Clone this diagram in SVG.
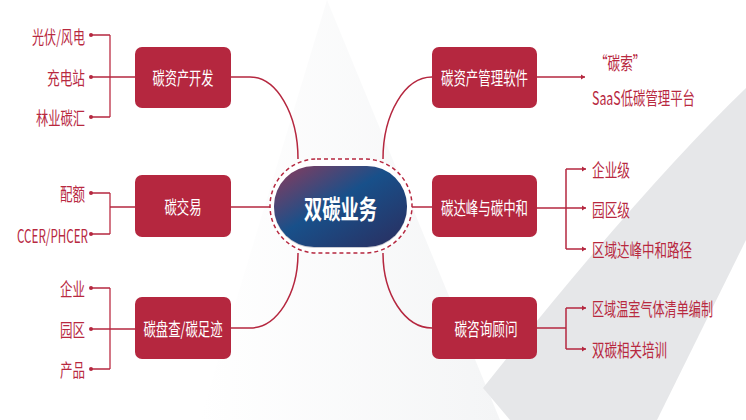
<svg xmlns="http://www.w3.org/2000/svg" width="746" height="420" viewBox="0 0 746 420">
<defs>
<linearGradient id="core" x1="0" y1="0" x2="1" y2="1">
<stop offset="0" stop-color="#8e3a5b"/>
<stop offset="0.45" stop-color="#18508a"/>
<stop offset="1" stop-color="#2b2d5e"/>
</linearGradient>
<linearGradient id="wedge" x1="0" y1="0" x2="1" y2="0">
<stop offset="0" stop-color="#ffffff"/>
<stop offset="1" stop-color="#f4f5f6"/>
</linearGradient>
<marker id="arr" markerUnits="userSpaceOnUse" markerWidth="8" markerHeight="8" refX="5" refY="4" orient="auto">
<path d="M1,1.5 L5,4 L1,6.5 Z" fill="#b5273f"/>
</marker>
<marker id="dot" markerUnits="userSpaceOnUse" markerWidth="6" markerHeight="6" refX="3" refY="3">
<circle cx="3" cy="3" r="2" fill="#b5273f"/>
</marker>
</defs>
<style>
.box{fill:#b5273f}
.bt{fill:#ffffff;font-family:"Noto Sans CJK SC","Noto Sans",sans-serif;font-size:18px;text-anchor:middle;dominant-baseline:central}
.lt{fill:#b8293f;font-family:"Noto Sans CJK SC","Noto Sans",sans-serif;font-size:18px;dominant-baseline:central}
.le{text-anchor:end}
.ln{fill:none;stroke:#b5273f;stroke-width:1.5}
.lb{fill:none;stroke:#c4485c;stroke-width:1.5}
</style>
<rect width="746" height="420" fill="#ffffff"/>
<polygon points="327,0 500,420 200,420" fill="url(#wedge)"/>
<path d="M746,88 Q640,190 483,388 L510,420 L657,420 L746,240 Z" fill="#e6e7e9"/>

<g id="connectors">
<path class="ln" d="M231,77 H250 A48 82 0 0 1 298,159"/>
<path class="ln" d="M231,207 H270"/>
<path class="ln" d="M231,328 H250 A48 75 0 0 0 298,253"/>
<path class="ln" d="M432,77 A49 82 0 0 0 383,159"/>
<path class="ln" d="M412,207 H432"/>
<path class="ln" d="M432,328 A49 75 0 0 1 383,253"/>

<path class="lb" d="M110,35 V117"/>
<path class="ln" d="M110,35 H91" marker-end="url(#dot)"/>
<path class="ln" d="M135,77 H91" marker-end="url(#dot)"/>
<path class="ln" d="M110,117 H91" marker-end="url(#dot)"/>

<path class="lb" d="M110,193 V234"/>
<path class="ln" d="M135,207 H110"/>
<path class="ln" d="M110,193 H91" marker-end="url(#dot)"/>
<path class="ln" d="M110,234 H91" marker-end="url(#dot)"/>

<path class="lb" d="M110,288 V369"/>
<path class="ln" d="M110,288 H91" marker-end="url(#dot)"/>
<path class="ln" d="M135,329 H91" marker-end="url(#dot)"/>
<path class="ln" d="M110,369 H91" marker-end="url(#dot)"/>

<path class="ln" d="M537,77 H585" marker-end="url(#arr)"/>

<path class="ln" d="M537,208 H566"/>
<path class="ln" d="M566,169 V249"/>
<path class="ln" d="M566,169 H586" marker-end="url(#arr)"/>
<path class="ln" d="M566,208 H586" marker-end="url(#arr)"/>
<path class="ln" d="M566,249 H586" marker-end="url(#arr)"/>

<path class="ln" d="M537,328 H566"/>
<path class="ln" d="M566,308 V349"/>
<path class="ln" d="M566,308 H586" marker-end="url(#arr)"/>
<path class="ln" d="M566,349 H586" marker-end="url(#arr)"/>
</g>

<g id="core-node">
<rect x="270" y="159" width="142" height="94" rx="47" fill="#ffffff" stroke="#b5273f" stroke-width="1.5" stroke-dasharray="4 3"/>
<rect x="274" y="167" width="133" height="81" rx="40" fill="#c9cbd3"/>
<rect x="274" y="166" width="133" height="81" rx="40" fill="url(#core)"/>
<text x="340.5" y="207" fill="#ffffff" font-family="'Noto Sans CJK SC','Noto Sans',sans-serif" font-size="26" font-weight="bold" text-anchor="middle" dominant-baseline="central" textLength="73" lengthAdjust="spacingAndGlyphs">双碳业务</text>
</g>

<g id="n-dev">
<rect class="box" x="135" y="47" width="96" height="61" rx="7"/>
<text class="bt" x="183" y="77" textLength="61" lengthAdjust="spacingAndGlyphs">碳资产开发</text>
</g>
<g id="n-trade">
<rect class="box" x="135" y="175" width="96" height="62" rx="7"/>
<text class="bt" x="183" y="206" textLength="37" lengthAdjust="spacingAndGlyphs">碳交易</text>
</g>
<g id="n-audit">
<rect class="box" x="135" y="297" width="96" height="62" rx="7"/>
<text class="bt" x="183" y="328" textLength="79" lengthAdjust="spacingAndGlyphs">碳盘查/碳足迹</text>
</g>
<g id="n-soft">
<rect class="box" x="432" y="47" width="105" height="61" rx="7"/>
<text class="bt" x="484.5" y="77" textLength="87" lengthAdjust="spacingAndGlyphs">碳资产管理软件</text>
</g>
<g id="n-peak">
<rect class="box" x="432" y="175" width="105" height="62" rx="7"/>
<text class="bt" x="484.5" y="207" textLength="87" lengthAdjust="spacingAndGlyphs">碳达峰与碳中和</text>
</g>
<g id="n-consult">
<rect class="box" x="432" y="297" width="105" height="62" rx="7"/>
<text class="bt" x="486" y="328" textLength="63" lengthAdjust="spacingAndGlyphs">碳咨询顾问</text>
</g>

<g id="leaf-left">
<text class="lt le" x="85" y="36" textLength="53" lengthAdjust="spacingAndGlyphs">光伏/风电</text>
<text class="lt le" x="85" y="77" textLength="38" lengthAdjust="spacingAndGlyphs">充电站</text>
<text class="lt le" x="85" y="117" textLength="49" lengthAdjust="spacingAndGlyphs">林业碳汇</text>
<text class="lt le" x="85" y="193" textLength="25" lengthAdjust="spacingAndGlyphs">配额</text>
<text class="lt le" x="88" y="235" textLength="71" lengthAdjust="spacingAndGlyphs">CCER/PHCER</text>
<text class="lt le" x="85" y="288" textLength="25" lengthAdjust="spacingAndGlyphs">企业</text>
<text class="lt le" x="85" y="329" textLength="25" lengthAdjust="spacingAndGlyphs">园区</text>
<text class="lt le" x="85" y="369" textLength="25" lengthAdjust="spacingAndGlyphs">产品</text>
</g>
<g id="leaf-right">
<text class="lt" transform="translate(595,62) scale(0.7,1)">“碳索”</text>
<text class="lt" x="592" y="97" textLength="103" lengthAdjust="spacingAndGlyphs">SaaS低碳管理平台</text>
<text class="lt" x="592" y="169" textLength="38" lengthAdjust="spacingAndGlyphs">企业级</text>
<text class="lt" x="592" y="209" textLength="38" lengthAdjust="spacingAndGlyphs">园区级</text>
<text class="lt" x="592" y="249" textLength="100" lengthAdjust="spacingAndGlyphs">区域达峰中和路径</text>
<text class="lt" x="592" y="308" textLength="121" lengthAdjust="spacingAndGlyphs">区域温室气体清单编制</text>
<text class="lt" x="592" y="349" textLength="75" lengthAdjust="spacingAndGlyphs">双碳相关培训</text>
</g>
</svg>
